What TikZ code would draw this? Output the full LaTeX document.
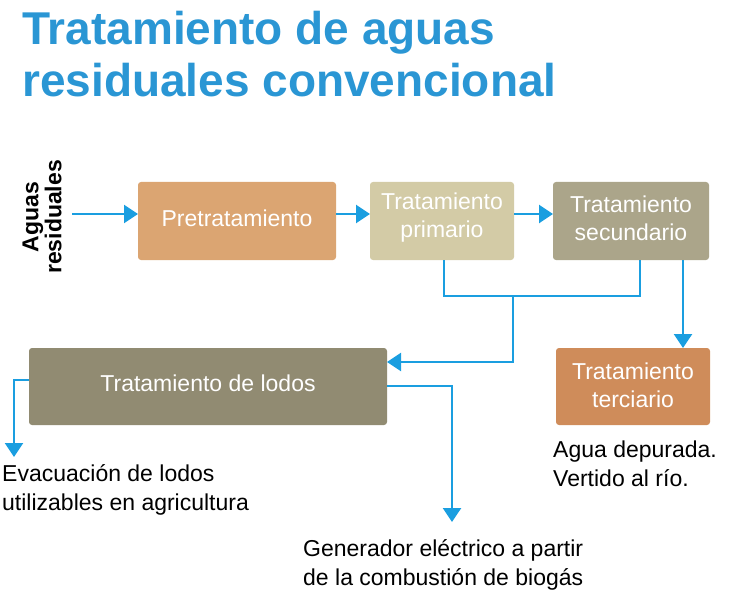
\documentclass[tikz,border=0pt]{standalone}
\usepackage{fontspec}
\setmainfont{Liberation Sans}
\usetikzlibrary{arrows.meta}
\definecolor{tblue}{HTML}{2A96D4}
\definecolor{abl}{HTML}{1A9EE0}
\definecolor{cpre}{HTML}{DBA572}
\definecolor{cpri}{HTML}{D3CBA6}
\definecolor{csec}{HTML}{ABA58A}
\definecolor{clod}{HTML}{918B72}
\definecolor{cter}{HTML}{CF8C5A}
\begin{document}
\begin{tikzpicture}[x=1pt,y=-1pt,
  box/.style={rounded corners=3pt,text=white,font=\fontsize{23}{28}\selectfont,align=center},
  con/.style={abl,line width=2.5pt},
  arr/.style={con,-{Triangle[length=14pt,width=18pt]}},
  lab/.style={font=\fontsize{23}{29}\selectfont,align=left,anchor=north west,inner sep=0pt}]
\useasboundingbox (0,0) rectangle (733,596);
\node[anchor=base west,inner sep=0pt,text=tblue,font=\fontsize{46}{50}\bfseries\selectfont] (t1) at (22,45) {Tratamiento de aguas};
\node[anchor=base west,inner sep=0pt,text=tblue,font=\fontsize{46}{50}\bfseries\selectfont] (t2) at (22,97) {residuales convencional};
\node[rotate=90,align=center,font=\fontsize{23}{23}\bfseries\selectfont,inner sep=0pt] (ag) at (42,217) {Aguas\\residuales};
\coordinate (in) at (72,214);
\fill[cpre,rounded corners=3pt] (138,182) rectangle (336,260);
\node[box] (pre) at (237,218) {Pretratamiento};
\fill[cpri,rounded corners=3pt] (370,182) rectangle (514,260);
\node[box] (pri) at (442,218) {Tratamiento\\primario};
\fill[csec,rounded corners=3pt] (553,182) rectangle (709,260);
\node[box] (sec) at (631,218) {Tratamiento\\secundario};
\fill[clod,rounded corners=3pt] (29,348) rectangle (387,425);
\node[box] (lod) at (208,383) {Tratamiento de lodos};
\fill[cter,rounded corners=3pt] (556,348) rectangle (710,425);
\node[box] (ter) at (633,385) {Tratamiento\\terciario};
\draw[arr] (in) -- (138,214);
\draw[arr] (336,214) -- (370,214);
\draw[arr] (514,214) -- (553,214);
\draw[con] (444,260) |- (640,296) -- (640,260);
\draw[arr] (513,296) |- (387,362);
\draw[arr] (683,260) -- (683,348);
\draw[arr] (29,380) -| (14,457);
\draw[arr] (387,386) -| (452,522);
\node[lab] (e) at (2,464) {Evacuación de lodos\\utilizables en agricultura};
\node[lab] (g) at (303,539) {Generador eléctrico a partir\\de la combustión de biogás};
\node[lab] (a) at (553,441) {Agua depurada.\\Vertido al río.};
\end{tikzpicture}
\end{document}
